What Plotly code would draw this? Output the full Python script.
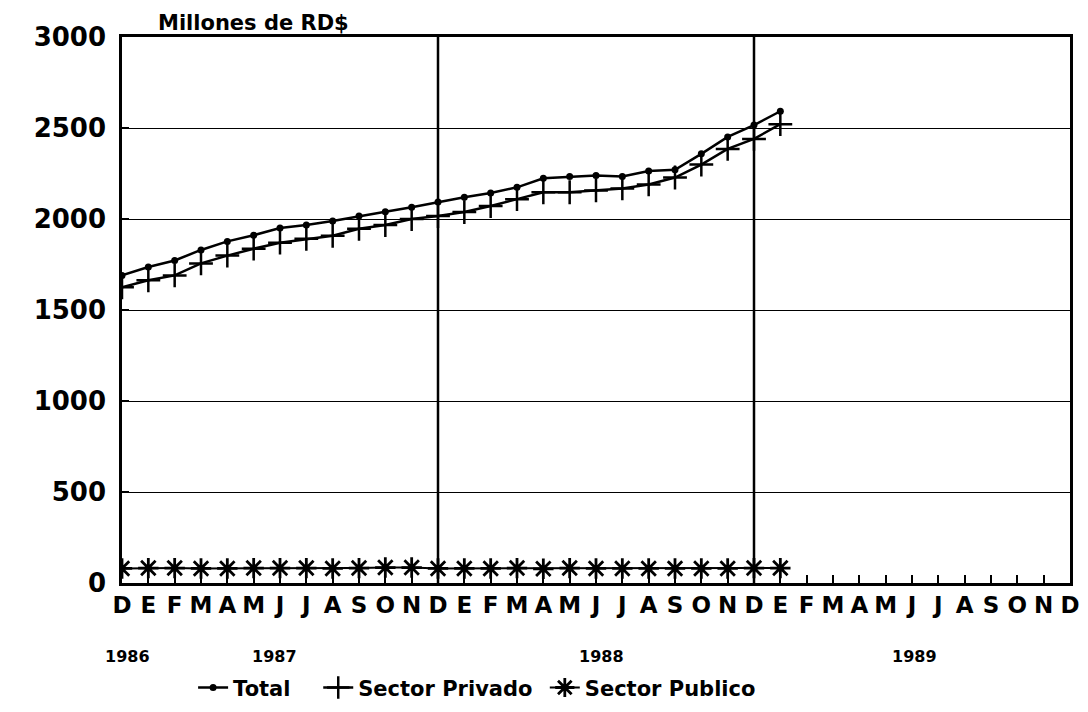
import plotly.graph_objects as go

# ---- data ----
month_labels = ["D"] + ["E", "F", "M", "A", "M", "J", "J", "A", "S", "O", "N", "D"] * 3
total = [1690, 1736, 1772, 1830, 1877, 1911, 1950, 1967, 1989, 2016, 2040, 2065, 2093,
         2119, 2143, 2174, 2224, 2233, 2239, 2233, 2264, 2270, 2358, 2451, 2516, 2592]
privado = [1625, 1663, 1690, 1756, 1799, 1837, 1870, 1891, 1908, 1946, 1967, 2000, 2016,
           2038, 2071, 2109, 2147, 2147, 2157, 2168, 2190, 2228, 2299, 2385, 2440, 2521]
publico = [80, 82, 82, 80, 80, 82, 82, 82, 80, 82, 85, 85, 80,
           80, 80, 82, 78, 82, 80, 80, 80, 80, 80, 80, 82, 82]
year_labels = ["1986", "1987", "1988", "1989"]
year_pos = [0.2, 5.8, 18.2, 30.1]
y_ticks = [0, 500, 1000, 1500, 2000, 2500, 3000]

FONT = "DejaVu Sans"
x = list(range(len(total)))

fig = go.Figure()
fig.add_trace(go.Scatter(
    x=x, y=total, name="Total", mode="lines+markers", legend="legend",
    line=dict(color="black", width=2.5),
    marker=dict(symbol="circle", size=7, color="black")))
fig.add_trace(go.Scatter(
    x=x, y=privado, name="Sector Privado", mode="lines+markers", legend="legend2",
    line=dict(color="black", width=2.5),
    marker=dict(symbol="cross-thin-open", size=17, line=dict(color="black", width=2.5))))
fig.add_trace(go.Scatter(
    x=x, y=publico, name="Sector Publico", mode="lines+markers", legend="legend3",
    line=dict(color="black", width=2),
    marker=dict(symbol="asterisk-open", size=17, line=dict(color="black", width=2.8))))

# divider lines at each December
for d in [12, 24]:
    fig.add_shape(type="line", xref="x", yref="paper", x0=d, x1=d, y0=0, y1=1,
                  line=dict(color="black", width=2.5), layer="below")

# year labels
for lbl, p in zip(year_labels, year_pos):
    fig.add_annotation(x=p, xref="x", y=-0.1355, yref="paper", text=lbl, showarrow=False,
                       font=dict(family=FONT, size=16, color="black", weight="bold"),
                       xanchor="center", yanchor="middle")

fig.add_annotation(x=0.139, xref="paper", y=1.051, yref="paper", text="Millones de RD$",
                   showarrow=False, xanchor="center", yanchor="top",
                   font=dict(family=FONT, size=21, color="black", weight="bold"))

leg_font = dict(family=FONT, size=21, color="black", weight="bold")
leg_common = dict(orientation="h", y=-0.192, yanchor="middle", xanchor="left",
                  font=leg_font, itemwidth=30, bgcolor="rgba(0,0,0,0)")

fig.update_layout(
    width=1080, height=704,
    margin=dict(l=114, r=18, t=29, b=129, autoexpand=False),
    paper_bgcolor="white", plot_bgcolor="white",
    font=dict(family=FONT, color="black", weight="bold"),
    showlegend=True,
    legend=dict(x=0.075, **leg_common),
    legend2=dict(x=0.207, **leg_common),
    legend3=dict(x=0.446, **leg_common),
)
fig.update_xaxes(
    range=[0, 36], tickmode="array", tickvals=list(range(37)), ticktext=month_labels,
    showgrid=False, zeroline=False, showline=True, linecolor="black", linewidth=2.5,
    mirror=True, automargin=False,
    ticks="inside", ticklen=8, tickwidth=2, tickcolor="black",
    tickfont=dict(family=FONT, size=23, color="black", weight="bold"))
fig.update_yaxes(
    range=[0, 3000], tickmode="array", tickvals=y_ticks,
    showgrid=True, gridcolor="black", gridwidth=1, zeroline=False,
    showline=True, linecolor="black", linewidth=2.5, mirror=True, automargin=False,
    ticks="inside", ticklen=7, tickwidth=2, tickcolor="black", ticklabelstandoff=8,
    tickfont=dict(family=FONT, size=26, color="black", weight="bold"))

fig.write_html("out.html")
